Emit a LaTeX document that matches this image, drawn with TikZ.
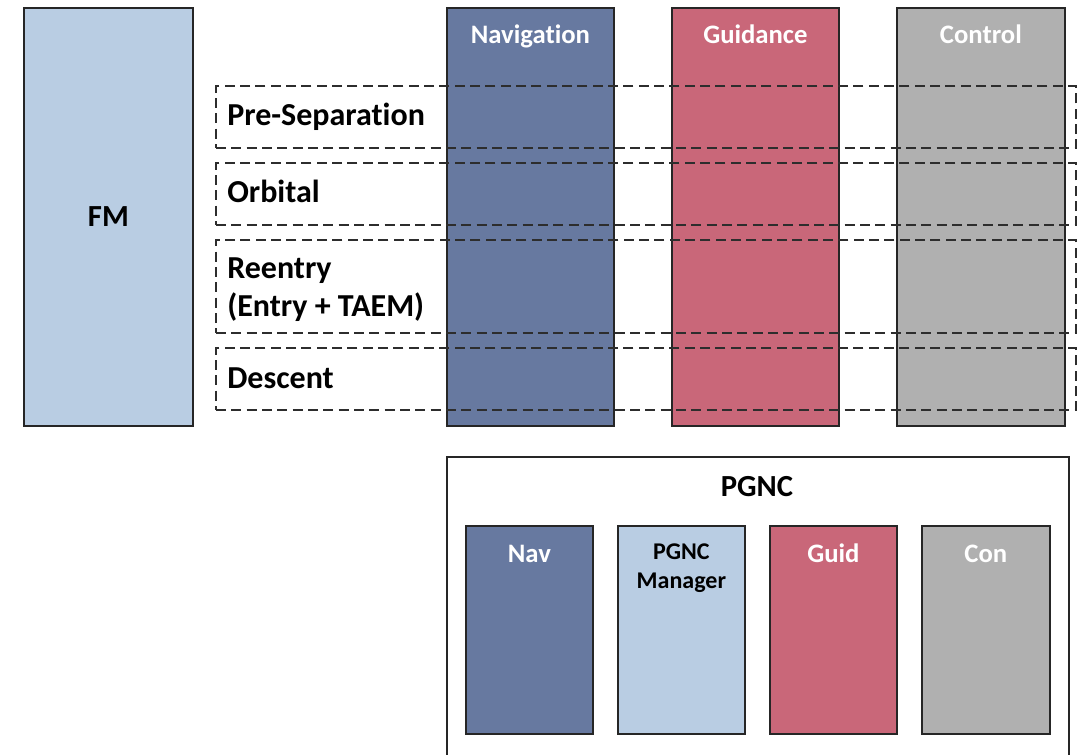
\documentclass[tikz,border=0pt]{standalone}
\usepackage{fontspec}
\setmainfont[Ligatures=NoCommon]{Carlito}
\newdimen\upx \upx=0.75pt
\definecolor{fmblue}{RGB}{185,205,227}
\definecolor{navblue}{RGB}{103,121,160}
\definecolor{guidred}{RGB}{201,103,121}
\definecolor{congray}{RGB}{176,176,176}
\definecolor{edgegray}{RGB}{38,38,38}
\definecolor{dashgray}{RGB}{45,45,45}
\tikzset{
  block/.style={draw=edgegray, line width=1.3pt, rectangle, inner sep=0pt, anchor=north west},
  phase/.style={draw=dashgray, line width=1.5pt, dash pattern=on 7.5pt off 4pt, rectangle, inner sep=0pt, anchor=north west},
  bigtxt/.style={font=\bfseries\fontsize{24}{28.5}\selectfont, inner sep=0pt},
  coltitle/.style={font=\bfseries\fontsize{20}{24}\selectfont, text=white, inner sep=0pt, anchor=base},
  subtitle/.style={font=\bfseries\fontsize{20}{24}\selectfont, inner sep=0pt, anchor=base},
}
\begin{document}
\begin{tikzpicture}[x=0.75pt,y=-0.75pt]
\useasboundingbox (0,0) rectangle (1086,754);

% flight manager
\node[block, fill=fmblue, minimum width=169\upx, minimum height=418\upx, font=\bfseries\fontsize{23}{28}\selectfont] (fm) at (23,7) {FM};

% navigation / guidance / control columns
\node[block, fill=navblue, minimum width=167\upx, minimum height=418\upx] (nav) at (446,7) {};
\node[block, fill=guidred, minimum width=167\upx, minimum height=418\upx] (guid) at (671,7) {};
\node[block, fill=congray, minimum width=168\upx, minimum height=418\upx] (con) at (896,7) {};
\node[coltitle] (navt) at ([yshift=-36\upx]nav.north) {Navigation};
\node[coltitle] (guidt) at ([yshift=-36\upx]guid.north) {Guidance};
\node[coltitle] (cont) at ([yshift=-36\upx]con.north) {Control};

% mission phases, drawn across the columns
\node[phase, minimum width=860\upx, minimum height=62\upx] (pre) at (215,85) {};
\node[phase, minimum width=860\upx, minimum height=62\upx] (orb) at (215,162) {};
\node[phase, minimum width=860\upx, minimum height=93\upx] (ree) at (215,239) {};
\node[phase, minimum width=860\upx, minimum height=62\upx] (des) at (215,347) {};
\node[bigtxt, anchor=base west] (pret) at (227,125) {Pre-Separation};
\node[bigtxt, anchor=base west] (orbt) at (227,202) {Orbital};
\node[bigtxt, anchor=north west, align=left] (reet) at (227,257) {Reentry\\(Entry + TAEM)};
\node[bigtxt, anchor=base west] (dest) at (227,388) {Descent};

% PGNC container and its modules
\node[block, fill=white, minimum width=622\upx, minimum height=320\upx] (pgnc) at (446,456) {};
\node[bigtxt, font=\bfseries\fontsize{23}{28}\selectfont, anchor=base] (pgnct) at (757,496) {PGNC};
\node[block, fill=navblue, minimum width=127\upx, minimum height=208\upx] (snav) at (465,525) {};
\node[block, fill=fmblue, minimum width=127\upx, minimum height=208\upx] (mgr) at (617,525) {};
\node[block, fill=guidred, minimum width=127\upx, minimum height=208\upx] (sguid) at (769,525) {};
\node[block, fill=congray, minimum width=128\upx, minimum height=208\upx] (scon) at (921,525) {};
\node[subtitle, text=white] (snavt) at ([yshift=-37\upx]snav.north) {Nav};
\node[font=\bfseries\fontsize{18}{21.75}\selectfont, align=center, inner sep=0pt, anchor=north] (mgrt) at ([yshift=-18\upx]mgr.north) {PGNC\\Manager};
\node[subtitle, text=white] (sguidt) at ([yshift=-37\upx]sguid.north) {Guid};
\node[subtitle, text=white] (scont) at ([yshift=-37\upx]scon.north) {Con};
\end{tikzpicture}
\end{document}
